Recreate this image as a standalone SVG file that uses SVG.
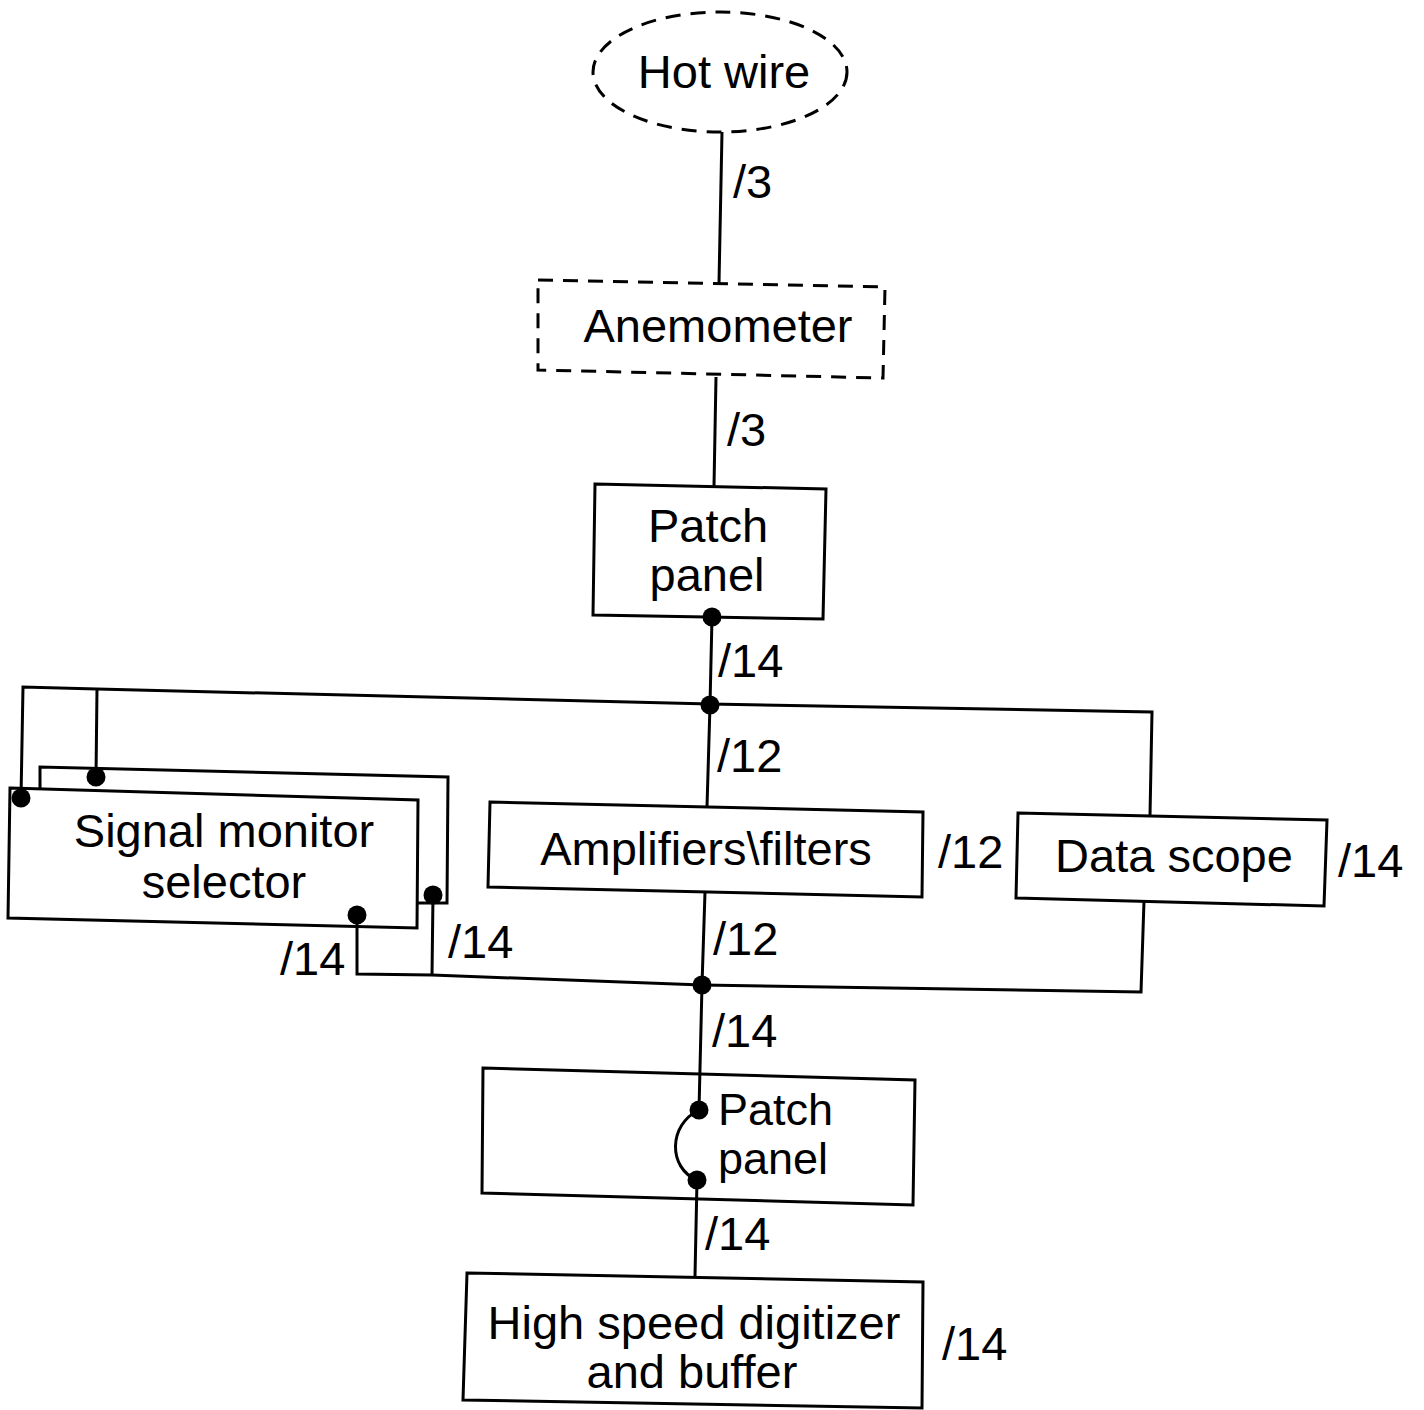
<svg xmlns="http://www.w3.org/2000/svg" width="1424" height="1410" viewBox="0 0 1424 1410">
<style>
.box{fill:none;stroke:#000;stroke-width:3;stroke-linejoin:miter}
.dash{fill:none;stroke:#000;stroke-width:3;stroke-dasharray:15 10}
.wire{fill:none;stroke:#000;stroke-width:3}
.dot{fill:#000}
text{font-family:"Liberation Sans",Arial,sans-serif;font-size:47px;fill:#000}
.c{text-anchor:middle}
.t{font-size:45px}
</style>
<rect width="1424" height="1410" fill="#fff"/>
<g id="hot-wire">
<ellipse class="dash" cx="720" cy="72" rx="127" ry="60"/>
<text class="c" x="724" y="88">Hot wire</text>
</g>
<g id="anemometer">
<polygon class="dash" points="538,280 885,287 883,378 538,370"/>
<text class="c" x="718" y="342">Anemometer</text>
</g>
<g id="patch-panel-1">
<polygon class="box" points="595,484 826,489 823,619 593,615"/>
<text class="c" x="708" y="542">Patch</text>
<text class="c" x="707" y="591">panel</text>
</g>
<g id="signal-monitor-selector">
<polyline class="box" points="40,789 40,767 448,777 447,903 418,903"/>
<polygon class="box" points="10,788 418,800 417,928 8,918"/>
<text class="c" x="224" y="847">Signal monitor</text>
<text class="c" x="224" y="898">selector</text>
</g>
<g id="amplifiers-filters">
<polygon class="box" points="490,802 923,812 922,897 488,887"/>
<text class="c" x="706" y="865">Amplifiers\filters</text>
</g>
<g id="data-scope">
<polygon class="box" points="1018,813 1327,820 1324,906 1016,898"/>
<text class="c" x="1174" y="872">Data scope</text>
</g>
<g id="patch-panel-2">
<polygon class="box" points="483,1068 915,1080 913,1205 482,1193"/>
<text class="t" x="718" y="1125">Patch</text>
<text class="t" x="718" y="1174">panel</text>
</g>
<g id="digitizer">
<polygon class="box" points="467,1273 923,1282 922,1408 463,1400"/>
<text class="c" x="694" y="1339">High speed digitizer</text>
<text class="c" x="692" y="1388">and buffer</text>
</g>
<g id="connectors">
<polyline class="wire" points="722,132 719,283"/>
<polyline class="wire" points="716,377 714,486"/>
<polyline class="wire" points="712,617 710,705 707,807"/>
<polyline class="wire" points="21,798 23,687 97,689 710,704 1152,712 1150,816"/>
<polyline class="wire" points="97,689 96,777"/>
<polyline class="wire" points="705,892 702,985 699,1110"/>
<polyline class="wire" points="357,915 357,974 432,975 702,985 1141,992 1144,901"/>
<polyline class="wire" points="433,895 432,975"/>
<path class="wire" d="M699,1110 C668,1125 668,1168 697,1180"/>
<polyline class="wire" points="697,1180 695,1276"/>
<circle class="dot" cx="712" cy="617" r="9.5"/>
<circle class="dot" cx="710" cy="705" r="9.5"/>
<circle class="dot" cx="702" cy="985" r="9.5"/>
<circle class="dot" cx="699" cy="1110" r="9.5"/>
<circle class="dot" cx="697" cy="1180" r="9.5"/>
<circle class="dot" cx="21" cy="798" r="9.5"/>
<circle class="dot" cx="96" cy="777" r="9.5"/>
<circle class="dot" cx="433" cy="895" r="9.5"/>
<circle class="dot" cx="357" cy="915" r="9.5"/>
<text x="733" y="198">/3</text>
<text x="727" y="446">/3</text>
<text x="718" y="677">/14</text>
<text x="717" y="772">/12</text>
<text x="938" y="868">/12</text>
<text x="1338" y="877">/14</text>
<text x="713" y="955">/12</text>
<text x="712" y="1047">/14</text>
<text x="280" y="975">/14</text>
<text x="448" y="958">/14</text>
<text x="705" y="1250">/14</text>
<text x="942" y="1360">/14</text>
</g>
</svg>
